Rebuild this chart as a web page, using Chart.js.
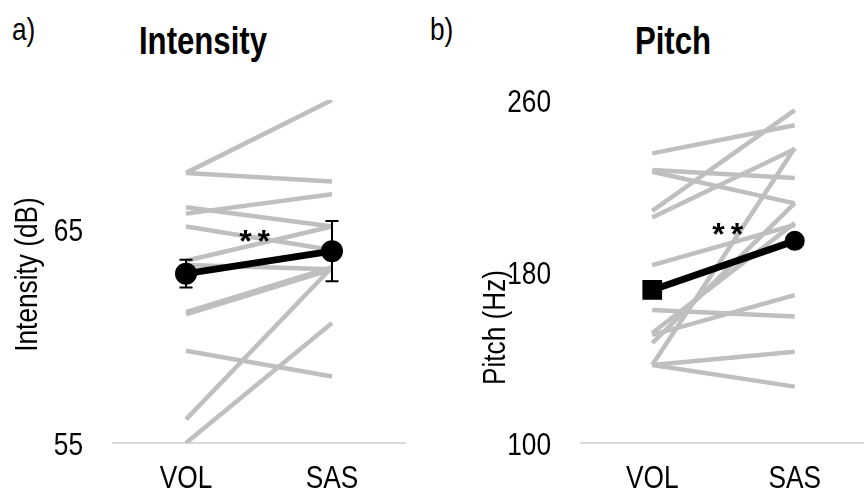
<!DOCTYPE html>
<html lang="en">
<head>
<meta charset="UTF-8">
<title>Intensity and Pitch: VOL vs SAS</title>
<script src="https://cdn.jsdelivr.net/npm/chart.js"></script>
<style>
  html, body { margin: 0; padding: 0; background: #fff; overflow: hidden; }
  body { width: 864px; height: 498px; position: relative; color: #000;
         font-family: "Liberation Sans", Arial, sans-serif; }
  canvas { position: absolute; top: 0; }
  #intensityChart { left: 0; }
  #pitchChart { left: 432px; }
  /* no narrow face installed, so squeeze the regular one */
  .tag { position: absolute; top: 13px; font-size: 32px; line-height: 32px;
         transform: scaleX(0.82); transform-origin: left top; }
  .title { position: absolute; top: 22px; font-size: 38px; line-height: 38px; font-weight: bold;
           transform: translateX(-50%) scaleX(0.82); white-space: nowrap; }
</style>
</head>
<body>
  <div class="tag" style="left:12px">a)</div>
  <div class="title" style="left:203px">Intensity</div>
  <div class="tag" style="left:430px">b)</div>
  <div class="title" style="left:673px">Pitch</div>

  <canvas id="intensityChart" width="432" height="498"></canvas>
  <canvas id="pitchChart" width="450" height="498"></canvas>

<script>
const categories = ['VOL', 'SAS'];

// a) Intensity (dB), one VOL/SAS pair per speaker
const intensityVol = [67.6, 67.6, 65.7, 66.0, 65.1, 63.5, 63.3, 61.1, 61.0, 59.3, 56.1, 55.0];
const intensitySas = [71.0, 67.2, 66.6, 65.1, 64.0, 65.1, 63.1, 63.2, 63.1, 58.1, 63.2, 60.6];
const intensityMean = [62.9, 63.95];
const intensityErr = [0.65, 1.4];
const intensityTicks = [55, 65];

// b) Pitch (Hz)
const pitchVol = [235.1, 227.3, 226.5, 208.3, 205.2, 183.0, 162.0, 150.4, 151.3, 146.6, 136.4, 136.4, 136.4];
const pitchSas = [248.2, 223.6, 211.8, 255.3, 237.1, 201.7, 159.0, 169.0, 202.6, 211.9, 237.6, 142.6, 126.3];
const pitchMean = [171.4, 194.3];
const pitchErr = [2.0, 2.3];
const pitchTicks = [100, 180, 260];

const FONT = '"Liberation Sans", Arial, sans-serif';
const GREY = '#bfbfbf';
const SQUEEZE = 0.82;

function narrowText(ctx, text, x, y, align) {
  ctx.save();
  ctx.translate(x, y);
  ctx.scale(SQUEEZE, 1);
  ctx.textAlign = align;
  ctx.fillText(text, 0, 0);
  ctx.restore();
}

// vertical error bars for the mean series (dataset 0)
const errorBars = {
  id: 'errorBars',
  afterDatasetsDraw(chart) {
    const ds = chart.data.datasets[0];
    const meta = chart.getDatasetMeta(0);
    const y = chart.scales.y;
    const ctx = chart.ctx;
    ctx.save();
    ctx.strokeStyle = '#000';
    ctx.lineWidth = 2;
    meta.data.forEach((pt, i) => {
      const top = y.getPixelForValue(ds.data[i] + ds.errors[i]);
      const bot = y.getPixelForValue(ds.data[i] - ds.errors[i]);
      ctx.beginPath();
      ctx.moveTo(pt.x, top); ctx.lineTo(pt.x, bot);
      ctx.moveTo(pt.x - 6.5, top); ctx.lineTo(pt.x + 6.5, top);
      ctx.moveTo(pt.x - 6.5, bot); ctx.lineTo(pt.x + 6.5, bot);
      ctx.stroke();
    });
    ctx.restore();
  }
};

// significance stars between the two conditions
const stars = {
  id: 'stars',
  afterDatasetsDraw(chart, args, o) {
    const { ctx, scales: { x, y } } = chart;
    const x0 = x.getPixelForValue(0), x1 = x.getPixelForValue(1);
    ctx.save();
    ctx.font = 'bold 32px ' + FONT;
    ctx.letterSpacing = '6px';
    ctx.fillStyle = '#000';
    ctx.textAlign = 'center';
    ctx.textBaseline = 'middle';
    ctx.fillText(o.text, x0 + (x1 - x0) * o.at + 3, y.getPixelForValue(o.value));
    ctx.restore();
  }
};

// tick labels and rotated y title, drawn condensed like Arial Narrow
const axisText = {
  id: 'axisText',
  afterDraw(chart, args, o) {
    const { ctx, chartArea, scales: { x, y } } = chart;
    ctx.save();
    ctx.font = '32px ' + FONT;
    ctx.fillStyle = '#000';
    ctx.textBaseline = 'alphabetic';
    x.ticks.forEach((t, i) => {
      narrowText(ctx, t.label, x.getPixelForTick(i), chartArea.bottom + 45, 'center');
    });
    y.ticks.forEach(t => {
      narrowText(ctx, String(t.value), chartArea.left - 30, y.getPixelForValue(t.value) + 12, 'right');
    });
    ctx.translate(o.x, (chartArea.top + chartArea.bottom) / 2 + o.dy);
    ctx.rotate(-Math.PI / 2);
    ctx.textBaseline = 'middle';
    narrowText(ctx, o.text, 0, 0, 'center');
    ctx.restore();
  }
};

function makePanel(id, p) {
  const datasets = [{
    data: p.mean,
    errors: p.err,
    borderColor: '#000',
    backgroundColor: '#000',
    borderWidth: 7,
    pointStyle: p.pointStyle,
    pointRadius: p.pointRadius,
    order: 0
  }];
  p.vol.forEach((v, i) => {
    datasets.push({
      data: [v, p.sas[i]],
      borderColor: GREY,
      borderWidth: 4.5,
      pointRadius: 0,
      order: 1
    });
  });

  new Chart(document.getElementById(id), {
    type: 'line',
    data: { labels: categories, datasets: datasets },
    options: {
      responsive: false,
      animation: false,
      events: [],
      layout: { padding: { left: 0, top: 100, right: p.padRight, bottom: 0 } },
      scales: {
        x: {
          offset: true,
          afterFit: s => { s.height = 55; },
          grid: { display: false, drawTicks: false },
          border: { display: true, color: '#d9d9d9', width: 2 },
          ticks: { display: false }
        },
        y: {
          min: p.min,
          max: p.max,
          afterBuildTicks: s => { s.ticks = p.ticks.map(v => ({ value: v })); },
          afterFit: s => { s.width = p.yWidth; },
          grid: { display: false, drawTicks: false },
          border: { display: false },
          ticks: { display: false }
        }
      },
      plugins: {
        legend: { display: false },
        tooltip: { enabled: false },
        stars: { text: '**', at: p.starAt, value: p.starValue },
        axisText: { text: p.title, x: p.titleX, dy: p.titleDy }
      }
    },
    plugins: [errorBars, stars, axisText]
  });
}

makePanel('intensityChart', {
  vol: intensityVol, sas: intensitySas, mean: intensityMean, err: intensityErr,
  ticks: intensityTicks, min: 55, max: 71,
  pointStyle: 'circle', pointRadius: 7.5,
  yWidth: 113, padRight: 27,
  starAt: 0.47, starValue: 64.3,
  title: 'Intensity (dB)', titleX: 28, titleDy: 3
});

makePanel('pitchChart', {
  vol: pitchVol, sas: pitchSas, mean: pitchMean, err: pitchErr,
  ticks: pitchTicks, min: 100, max: 260,
  pointStyle: ['rect', 'circle'], pointRadius: [9, 6.5],
  yWidth: 149, padRight: 9,
  starAt: 0.53, starValue: 196.5,
  title: 'Pitch (Hz)', titleX: 64, titleDy: 56
});
</script>
</body>
</html>
